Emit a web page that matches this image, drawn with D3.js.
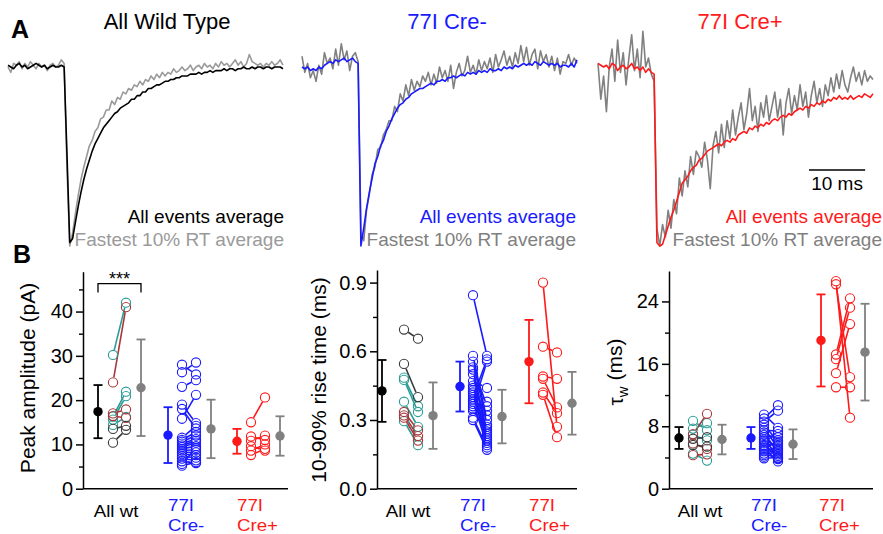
<!DOCTYPE html>
<html lang="en">
<head>
<meta charset="utf-8"/>
<title>mEPSC averages and kinetics</title>
<script src="https://d3js.org/d3.v7.min.js"></script>
<style>
  body { margin: 0; background: #fff; }
  svg text { font-family: "Liberation Sans", Arial, Helvetica, sans-serif; }
</style>
</head>
<body>
<svg id="chart" width="883" height="534"></svg>
<script>
// ---- panel A: normalized average traces, sampled every 0.5 ms from -10 to 39 ms ----
const traceStart = -10;
const traceStep = 0.5;
const traceTitles = ["All Wild Type", "77I Cre-", "77I Cre+"];
const legendAll = "All events average";
const legendFast = "Fastest 10% RT average";
const scaleBarMs = 10;

const wtAll = [
  0.01, 0.00, -0.01, 0.01, 0.02, 0.00, 0.01, -0.01, 0.00, 0.01,
  0.02, 0.01, 0.00, 0.01, -0.01, 0.00, 0.01, 0.00, 0.00, 0.01,
  0.00, -0.48, -0.98, -0.96, -0.87, -0.78, -0.70, -0.63, -0.57, -0.52,
  -0.47, -0.43, -0.40, -0.37, -0.34, -0.32, -0.30, -0.28, -0.26, -0.25,
  -0.23, -0.22, -0.21, -0.20, -0.18, -0.18, -0.16, -0.16, -0.14, -0.14,
  -0.12, -0.12, -0.11, -0.10, -0.10, -0.09, -0.08, -0.08, -0.07, -0.07,
  -0.06, -0.06, -0.05, -0.05, -0.05, -0.04, -0.04, -0.04, -0.03, -0.04,
  -0.03, -0.03, -0.02, -0.03, -0.02, -0.02, -0.02, -0.01, -0.02, -0.01,
  -0.01, -0.02, -0.01, -0.01, 0.00, -0.01, -0.01, 0.00, -0.01, 0.00,
  0.00, -0.01, 0.00, 0.00, -0.01, 0.00, 0.00, 0.00, -0.01
];
const wtFast = [
  0.00, -0.03, 0.02, 0.01, 0.03, -0.01, 0.02, 0.00, 0.03, 0.01,
  -0.01, 0.02, 0.00, 0.01, -0.02, 0.01, 0.02, 0.00, 0.01, 0.04,
  0.02, -0.55, -1.00, -0.93, -0.82, -0.72, -0.63, -0.56, -0.50, -0.44,
  -0.41, -0.36, -0.34, -0.29, -0.28, -0.24, -0.24, -0.19, -0.21, -0.17,
  -0.18, -0.14, -0.15, -0.12, -0.13, -0.10, -0.11, -0.08, -0.10, -0.07,
  -0.08, -0.05, -0.07, -0.04, -0.06, -0.03, -0.05, -0.03, -0.04, -0.01,
  -0.03, -0.02, 0.00, -0.02, -0.01, 0.01, -0.02, 0.00, 0.01, -0.01,
  0.02, 0.00, 0.01, -0.01, 0.02, 0.00, 0.03, 0.01, 0.02, 0.00,
  0.02, 0.04, 0.01, 0.03, 0.00, 0.02, 0.07, 0.03, 0.02, 0.01,
  0.02, 0.00, 0.02, 0.01, 0.03, 0.01, 0.02, 0.04, 0.01
];
const creMinusAll = [
  0.00, -0.01, 0.00, -0.02, -0.01, -0.02, 0.00, -0.01, 0.01, 0.02,
  0.03, 0.02, 0.04, 0.03, 0.04, 0.05, 0.03, 0.04, 0.05, 0.03,
  0.02, -1.00, -0.90, -0.79, -0.70, -0.62, -0.54, -0.50, -0.44, -0.41,
  -0.36, -0.33, -0.29, -0.26, -0.23, -0.21, -0.20, -0.18, -0.17, -0.15,
  -0.14, -0.13, -0.12, -0.12, -0.11, -0.10, -0.09, -0.10, -0.08, -0.08,
  -0.07, -0.08, -0.06, -0.06, -0.05, -0.06, -0.05, -0.04, -0.05, -0.03,
  -0.04, -0.03, -0.04, -0.02, -0.03, -0.02, -0.03, -0.01, -0.02, -0.02,
  -0.01, -0.02, 0.00, -0.01, 0.00, -0.01, 0.01, 0.00, 0.01, 0.02,
  0.01, 0.02, 0.01, 0.03, 0.02, 0.01, 0.03, 0.02, 0.01, 0.02,
  0.01, 0.02, 0.00, 0.01, 0.01, 0.00, 0.02, 0.00, 0.04
];
const creMinusFast = [
  0.06, -0.03, 0.02, -0.06, -0.02, -0.08, 0.01, -0.04, 0.08, 0.02,
  0.05, -0.01, 0.10, 0.01, 0.13, 0.04, 0.09, -0.02, 0.06, 0.08,
  0.03, -0.92, -0.97, -0.80, -0.71, -0.60, -0.56, -0.46, -0.45, -0.38,
  -0.35, -0.30, -0.30, -0.22, -0.25, -0.15, -0.19, -0.10, -0.16, -0.07,
  -0.13, -0.08, -0.11, -0.05, -0.08, -0.03, -0.10, -0.04, -0.09, 0.00,
  -0.06, -0.02, -0.08, 0.01, -0.12, -0.03, 0.02, -0.05, -0.02, 0.06,
  -0.03, 0.01, -0.04, 0.04, -0.02, 0.03, -0.01, 0.05, -0.03, 0.07,
  0.00, 0.04, 0.09, 0.01, 0.06, 0.00, 0.08, 0.02, 0.12, 0.03,
  0.11, 0.01, 0.07, 0.10, -0.01, 0.09, 0.03, 0.07, 0.00, 0.06,
  -0.02, 0.05, -0.04, 0.03, 0.02, 0.07, 0.01, 0.05, 0.02
];
const crePlusAll = [
  0.02, 0.01, 0.00, 0.01, -0.01, 0.02, 0.01, -0.02, 0.00, 0.01,
  -0.01, 0.00, 0.02, -0.01, 0.00, -0.02, 0.00, -0.03, -0.01, -0.03,
  -0.04, -0.98, -1.00, -0.99, -0.94, -0.89, -0.84, -0.80, -0.75, -0.70,
  -0.65, -0.63, -0.61, -0.58, -0.56, -0.55, -0.52, -0.51, -0.49, -0.47,
  -0.46, -0.45, -0.44, -0.43, -0.44, -0.42, -0.41, -0.42, -0.40, -0.41,
  -0.38, -0.37, -0.36, -0.37, -0.34, -0.35, -0.33, -0.34, -0.32, -0.33,
  -0.31, -0.32, -0.30, -0.29, -0.30, -0.28, -0.27, -0.28, -0.26, -0.27,
  -0.25, -0.24, -0.23, -0.24, -0.22, -0.23, -0.21, -0.22, -0.20, -0.21,
  -0.19, -0.20, -0.18, -0.19, -0.17, -0.18, -0.16, -0.18, -0.17, -0.18,
  -0.16, -0.18, -0.17, -0.16, -0.17, -0.15, -0.16, -0.17, -0.15
];
const crePlusFast = [
  0.02, -0.18, -0.05, -0.25, 0.00, 0.10, -0.08, 0.15, -0.03, 0.08,
  -0.10, 0.05, 0.18, -0.02, 0.10, -0.06, 0.20, 0.00, 0.05, -0.04,
  -0.08, -0.90, -1.00, -0.88, -0.95, -0.80, -0.90, -0.74, -0.82, -0.62,
  -0.72, -0.58, -0.67, -0.50, -0.60, -0.47, -0.50, -0.56, -0.42, -0.52,
  -0.68, -0.44, -0.36, -0.48, -0.32, -0.45, -0.30, -0.40, -0.24, -0.38,
  -0.28, -0.20, -0.35, -0.26, -0.12, -0.30, -0.22, -0.36, -0.20, -0.28,
  -0.16, -0.30, -0.22, -0.14, -0.28, -0.18, -0.38, -0.20, -0.12, -0.26,
  -0.16, -0.24, -0.10, -0.22, -0.14, -0.28, -0.16, -0.08, -0.20, -0.12,
  -0.22, -0.10, -0.16, -0.06, -0.14, -0.04, -0.12, -0.02, -0.10, -0.14,
  -0.06, 0.00, -0.08, -0.03, -0.10, -0.02, -0.08, -0.05, -0.07
];

// ---- panel B: per-cell values (all events / fastest 10%) and group mean, SD ----
const groupLabels = [["All wt"], ["77I", "Cre-"], ["77I", "Cre+"]];
const wtCellColors = ["teal", "teal", "teal", "teal", "darkred", "darkred", "darkred", "black", "black"];

const ampWtAll = [30.2, 16.3, 15.6, 14.4, 24.0, 17.0, 16.4, 13.5, 10.4];
const ampWtFast = [42.0, 21.9, 20.9, 16.2, 41.0, 17.9, 16.0, 14.2, 13.3];
const ampCreMAll = [28.0, 26.3, 23.0, 19.0, 18.0, 15.8, 11.5, 11.0, 10.6, 10.2, 9.8, 9.4, 9.0, 8.6, 8.2, 7.8, 7.3, 6.8, 6.2, 5.6, 5.2];
const ampCreMFast = [25.8, 28.5, 24.5, 14.8, 13.6, 21.2, 14.2, 12.8, 12.0, 11.2, 10.8, 10.4, 9.6, 8.8, 8.2, 7.6, 7.0, 6.4, 5.8, 9.2, 6.0];
const ampCrePAll = [15.0, 11.8, 10.8, 9.6, 8.6, 7.6];
const ampCrePFast = [20.6, 11.0, 12.0, 8.6, 10.0, 9.0];
const ampMean = [[17.4, 22.8], [12.1, 13.5], [10.7, 11.9]];
const ampSd = [[6.0, 10.9], [6.3, 6.6], [2.8, 4.45]];

const riseWtAll = [0.485, 0.475, 0.38, 0.295, 0.335, 0.32, 0.31, 0.695, 0.545];
const riseWtFast = [0.36, 0.335, 0.27, 0.19, 0.255, 0.23, 0.21, 0.655, 0.40];
const riseCreMAll = [0.845, 0.58, 0.555, 0.53, 0.52, 0.50, 0.47, 0.45, 0.44, 0.43, 0.42, 0.41, 0.40, 0.39, 0.38, 0.37, 0.36, 0.35, 0.30, 0.34, 0.31];
const riseCreMFast = [0.58, 0.30, 0.28, 0.36, 0.25, 0.23, 0.44, 0.22, 0.32, 0.21, 0.26, 0.20, 0.565, 0.34, 0.19, 0.27, 0.555, 0.24, 0.17, 0.38, 0.18];
const riseCrePAll = [0.90, 0.62, 0.49, 0.48, 0.42, 0.41];
const riseCrePFast = [0.27, 0.595, 0.48, 0.355, 0.33, 0.225];
const riseMean = [[0.427, 0.319], [0.446, 0.315], [0.555, 0.373]];
const riseSd = [[0.135, 0.145], [0.109, 0.117], [0.182, 0.137]];

const tauWtAll = [8.7, 7.7, 6.9, 4.5, 7.0, 5.8, 4.3, 6.4, 5.6];
const tauWtFast = [7.5, 8.4, 6.2, 3.6, 9.6, 5.1, 4.4, 6.6, 5.4];
const tauCreMAll = [9.5, 9.0, 8.6, 8.2, 7.8, 7.5, 7.2, 6.9, 6.6, 6.3, 6.1, 5.9, 5.6, 5.4, 5.2, 5.0, 4.8, 4.5, 4.3, 4.1, 3.9];
const tauCreMFast = [7.8, 10.7, 10.0, 6.0, 5.2, 7.4, 4.6, 6.6, 5.0, 4.2, 7.0, 3.8, 5.8, 4.4, 3.5, 6.2, 5.4, 3.9, 4.8, 5.6, 4.0];
const tauCrePAll = [26.6, 26.2, 17.2, 16.6, 14.8, 13.0];
const tauCrePFast = [9.1, 14.3, 24.4, 23.2, 21.1, 13.0];
const tauMean = [[6.5, 6.3], [6.5, 5.7], [19.0, 17.5]];
const tauSd = [[1.4, 1.9], [1.4, 1.9], [5.9, 6.2]];

// ---- styles ----
const blue = "#1a1aff";
const red = "#ff1a1a";
const gray = "#808080";
const cellColor = {teal: "#2a9c96", darkred: "#a8383a", black: "#3a3a3a"};

const svg = d3.select("#chart");
svg.append("rect").attr("width", 883).attr("height", 534).attr("fill", "#fff");

// text placed at (x, y), optionally stretched horizontally by sx
function addText(x, y, str, size, color, anchor, weight, sx) {
  return svg.append("text")
    .attr("transform", `translate(${x},${y}) scale(${sx || 1},1)`)
    .attr("font-size", size)
    .attr("fill", color)
    .attr("text-anchor", anchor || "start")
    .attr("font-weight", weight || "normal")
    .text(str);
}

// ---- panel A ----
const traceTime = wtAll.map((_, i) => traceStart + i * traceStep);
const traceEnd = traceTime[traceTime.length - 1];
const yTrace = d3.scaleLinear().domain([-1, 0]).range([246, 67]);

const tracePanels = [
  {x0: 8, all: wtAll, fast: wtFast, color: "#000", fastColor: "#9a9a9a", titleX: 167, legendX: 284},
  {x0: 302, all: creMinusAll, fast: creMinusFast, color: blue, fastColor: gray, titleX: 447, legendX: 576},
  {x0: 598, all: crePlusAll, fast: crePlusFast, color: red, fastColor: gray, titleX: 740, legendX: 882}
];

tracePanels.forEach((p, k) => {
  const x = d3.scaleLinear().domain([traceStart, traceEnd]).range([p.x0, p.x0 + 275]);
  const line = d3.line()
    .x((d, i) => x(traceTime[i]))
    .y(d => yTrace(d));

  svg.append("path").datum(p.fast)
    .attr("fill", "none").attr("stroke", p.fastColor)
    .attr("stroke-width", 1.6).attr("stroke-linejoin", "round")
    .attr("d", line);
  svg.append("path").datum(p.all)
    .attr("fill", "none").attr("stroke", p.color)
    .attr("stroke-width", 1.6).attr("stroke-linejoin", "round")
    .attr("d", line);

  addText(p.titleX, 29, traceTitles[k], 22, p.color, "middle");
  addText(p.legendX, 223, legendAll, 19, p.color, "end");
  addText(p.legendX, 246, legendFast, 19, p.fastColor, "end");

  // 10 ms scale bar in the last panel
  if (k === 2) {
    svg.append("line")
      .attr("x1", x(27.6)).attr("x2", x(27.6 + scaleBarMs))
      .attr("y1", 170).attr("y2", 170)
      .attr("stroke", "#000").attr("stroke-width", 1.6);
    addText((x(27.6) + x(27.6 + scaleBarMs)) / 2, 190, scaleBarMs + " ms", 19, "#000", "middle");
  }
});

addText(11, 38, "A", 25, "#000", "start", "bold");
addText(13, 263, "B", 25, "#000", "start", "bold");

// ---- panel B ----
const statPanels = [
  {
    axisX: 83, xEnd: 288, yTop: 271.7, yMax: 49,
    ticks: [0, 10, 20, 30, 40], minor: [5, 15, 25, 35, 45], fmt: d3.format("d"),
    label: "Peak amplitude (pA)", labelX: 28, labelY: 378,
    cols: [[98, 113, 126, 141], [168, 182, 196, 211], [237, 251, 265, 280]],
    catX: [116, 168, 237],
    all: [ampWtAll, ampCreMAll, ampCrePAll], fast: [ampWtFast, ampCreMFast, ampCrePFast],
    mean: ampMean, sd: ampSd, stars: true
  },
  {
    axisX: 377, xEnd: 577, yTop: 270, yMax: 0.955,
    ticks: [0, 0.3, 0.6, 0.9], minor: [0.15, 0.45, 0.75], fmt: d3.format(".1f"),
    label: "10-90% rise time (ms)", labelX: 319, labelY: 380,
    cols: [[382, 404, 418, 433], [460, 473, 487, 502], [529, 543, 557, 572]],
    catX: [408, 460, 529],
    all: [riseWtAll, riseCreMAll, riseCrePAll], fast: [riseWtFast, riseCreMFast, riseCrePFast],
    mean: riseMean, sd: riseSd
  },
  {
    axisX: 669, xEnd: 873, yTop: 271, yMax: 27.9,
    ticks: [0, 8, 16, 24], minor: [4, 12, 20], fmt: d3.format("d"),
    label: null, labelX: 616, labelY: 372,
    cols: [[679, 693, 707, 722], [751, 764, 778, 793], [821, 836, 850, 865]],
    catX: [700, 751, 819],
    all: [tauWtAll, tauCreMAll, tauCrePAll], fast: [tauWtFast, tauCreMFast, tauCrePFast],
    mean: tauMean, sd: tauSd
  }
];

const groupColors = ["#000", blue, red];
const r = 4.6;

function trimmed(x1, y1, x2, y2, d) {
  const dx = x2 - x1, dy = y2 - y1, len = Math.hypot(dx, dy);
  if (len <= 2 * d + 0.5) return null;
  const ux = dx / len, uy = dy / len;
  return [x1 + ux * d, y1 + uy * d, x2 - ux * d, y2 - uy * d];
}

function errorBar(g, x, y, mean, sd, color) {
  const cap = 4.5;
  g.append("line").attr("x1", x).attr("x2", x).attr("y1", y(mean - sd)).attr("y2", y(mean + sd))
    .attr("stroke", color).attr("stroke-width", 1.8);
  [mean - sd, mean + sd].forEach(v => {
    g.append("line").attr("x1", x - cap).attr("x2", x + cap).attr("y1", y(v)).attr("y2", y(v))
      .attr("stroke", color).attr("stroke-width", 1.8);
  });
  g.append("circle").attr("cx", x).attr("cy", y(mean)).attr("r", 4.7).attr("fill", color);
}

statPanels.forEach(p => {
  const g = svg.append("g");
  const y = d3.scaleLinear().domain([0, p.yMax]).range([488.7, p.yTop]);
  const keys = [];
  p.cols.forEach((c, gi) => ["mean", "all", "fast", "sd"].forEach(k => keys.push(gi + k)));
  const x = d3.scaleOrdinal().domain(keys).range(p.cols.flat());

  // y axis, major and minor ticks
  g.append("g")
    .attr("transform", `translate(${p.axisX},0)`)
    .call(d3.axisLeft(y).tickValues(p.minor).tickSize(4).tickSizeOuter(0).tickFormat(""))
    .call(a => a.select(".domain").remove())
    .call(a => a.selectAll("text").remove())
    .call(a => a.selectAll("line").attr("stroke", "#000").attr("stroke-width", 1.4));
  g.append("g")
    .attr("transform", `translate(${p.axisX},0)`)
    .call(d3.axisLeft(y).tickValues(p.ticks).tickSize(7).tickSizeOuter(0).tickPadding(3).tickFormat(p.fmt))
    .call(a => a.selectAll("line,path").attr("stroke", "#000").attr("stroke-width", 1.5))
    .call(a => a.selectAll("text").attr("font-size", 20).attr("fill", "#000")
      .attr("font-family", '"Liberation Sans", Arial, sans-serif'));

  // x axis line
  g.append("line")
    .attr("x1", p.axisX).attr("x2", p.xEnd).attr("y1", y(0)).attr("y2", y(0))
    .attr("stroke", "#000").attr("stroke-width", 1.5);

  // y label
  const yl = g.append("text")
    .attr("transform", `translate(${p.labelX},${p.labelY}) rotate(-90)`)
    .attr("text-anchor", "middle").attr("dy", "0.35em")
    .attr("font-size", 21).attr("fill", "#000");
  if (p.label) {
    yl.text(p.label);
  } else {
    yl.append("tspan").text("τ");
    yl.append("tspan").attr("font-size", 15).attr("dy", "0.3em").text("w");
    yl.append("tspan").attr("dy", "-0.3em").text(" (ms)");
  }

  // groups
  p.all.forEach((vals, gi) => {
    const xa = x(gi + "all"), xf = x(gi + "fast");
    const colorOf = i => gi === 0 ? cellColor[wtCellColors[i]] : groupColors[gi];

    vals.forEach((v, i) => {
      const seg = trimmed(xa, y(v), xf, y(p.fast[gi][i]), r + 0.4);
      if (seg) {
        g.append("line")
          .attr("x1", seg[0]).attr("y1", seg[1]).attr("x2", seg[2]).attr("y2", seg[3])
          .attr("stroke", colorOf(i)).attr("stroke-width", 1.6);
      }
    });
    vals.forEach((v, i) => {
      g.append("circle").attr("cx", xa).attr("cy", y(v)).attr("r", r)
        .attr("fill", "none").attr("stroke", colorOf(i)).attr("stroke-width", 1.1);
      g.append("circle").attr("cx", xf).attr("cy", y(p.fast[gi][i])).attr("r", r)
        .attr("fill", "none").attr("stroke", colorOf(i)).attr("stroke-width", 1.1);
    });

    errorBar(g, x(gi + "mean"), y, p.mean[gi][0], p.sd[gi][0], groupColors[gi]);
    errorBar(g, x(gi + "sd"), y, p.mean[gi][1], p.sd[gi][1], gray);

    // category label (two lines for the mutant groups)
    const lines = groupLabels[gi];
    if (lines.length === 1) {
      addText(p.catX[gi], 517, lines[0], 17, groupColors[gi], "middle", null, 1.1);
    } else {
      addText(p.catX[gi], 510.5, lines[0], 17, groupColors[gi], "start", null, 1.1);
      addText(p.catX[gi], 530.5, lines[1], 17, groupColors[gi], "start", null, 1.1);
    }
  });

  if (p.stars) {
    const x1 = x("0mean"), x2 = x("0sd");
    g.append("path")
      .attr("d", `M${x1},${y(44.3)}V${y(46.3)}H${x2}V${y(44.3)}`)
      .attr("fill", "none").attr("stroke", "#000").attr("stroke-width", 1.3);
    addText((x1 + x2) / 2, y(46.3) + 1, "***", 18, "#000", "middle");
  }
});
</script>
</body>
</html>
